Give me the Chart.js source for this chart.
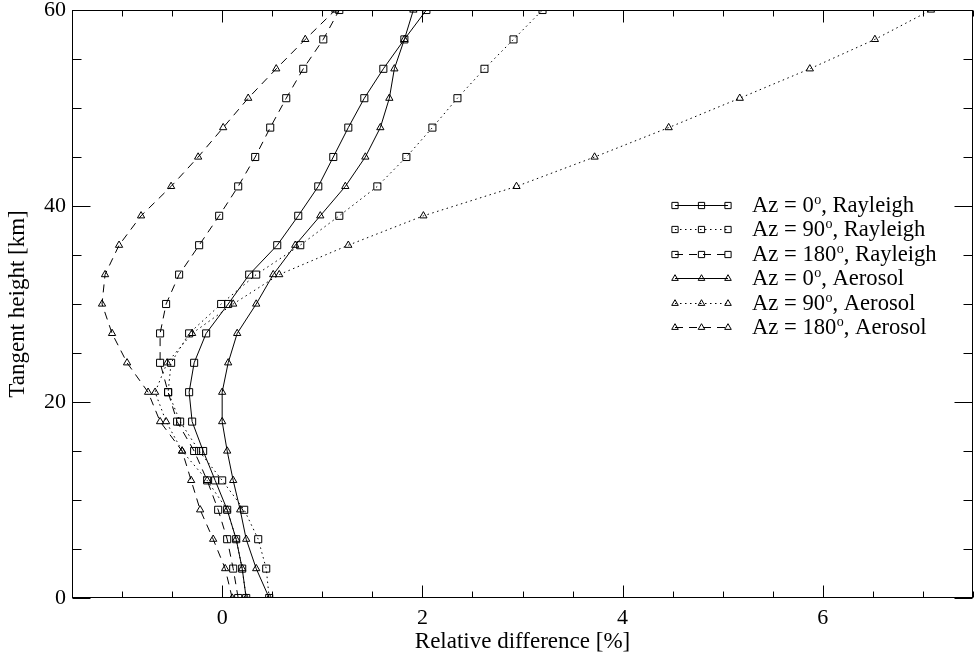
<!DOCTYPE html>
<html><head><meta charset="utf-8">
<script src="https://cdn.jsdelivr.net/npm/chart.js@4.4.1/dist/chart.umd.min.js"></script>
<style>html,body{margin:0;padding:0;background:#fff}canvas{display:block}</style>
</head><body>
<canvas id="c" width="979" height="662"></canvas>
<script>
// ---- data ----
const heights = [0,3,6,9,12,15,18,21,24,27,30,33,36,39,42,45,48,51,54,57,60];
const rayleigh0   = [0.24,0.20,0.14,0.05,-0.07,-0.19,-0.30,-0.33,-0.28,-0.16,0.06,0.27,0.55,0.76,0.96,1.11,1.26,1.42,1.61,1.82,2.04];
const rayleigh90  = [0.47,0.44,0.36,0.22,0.00,-0.23,-0.42,-0.54,-0.51,-0.33,-0.01,0.34,0.78,1.17,1.55,1.84,2.10,2.35,2.62,2.91,3.20];
const rayleigh180 = [0.16,0.11,0.05,-0.04,-0.15,-0.28,-0.45,-0.54,-0.62,-0.62,-0.56,-0.43,-0.23,-0.03,0.16,0.33,0.48,0.64,0.81,1.01,1.17];
const aerosol0    = [0.47,0.34,0.24,0.18,0.11,0.05,0.00,0.00,0.06,0.15,0.34,0.51,0.73,0.98,1.23,1.43,1.58,1.67,1.72,1.82,1.91];
const aerosol90   = [0.24,0.20,0.14,0.05,-0.15,-0.40,-0.56,-0.67,-0.55,-0.30,0.11,0.57,1.26,2.01,2.94,3.72,4.46,5.17,5.87,6.52,7.08];
const aerosol180  = [0.10,0.03,-0.09,-0.22,-0.31,-0.40,-0.62,-0.74,-0.95,-1.10,-1.20,-1.17,-1.03,-0.81,-0.51,-0.24,0.01,0.26,0.54,0.83,1.13];
const azimuths = ['0','90','180'];
const scatterTypes = ['Rayleigh','Aerosol'];
const xTickValues = [0,2,4,6];
const yTickValues = [0,20,40,60];
const xTitle = 'Relative difference [%]';
const yTitle = 'Tangent height [km]';

// ---- styles ----
const FONT = '"Liberation Serif", "Times New Roman", serif';
const dashStyles = [[], [1.5,3.5], [8,6]];
const seriesValues = [rayleigh0, rayleigh90, rayleigh180, aerosol0, aerosol90, aerosol180];

const datasets = seriesValues.map((vals, i) => {
  const az = azimuths[i % 3];
  const type = scatterTypes[Math.floor(i / 3)];
  const isTri = i >= 3;
  return {
    label: 'Az = ' + az + '\u00B0, ' + type,
    legendParts: ['Az = ' + az, 'o', ', ' + type],
    data: vals.map((v, k) => ({x: v, y: heights[k]})),
    showLine: true,
    borderColor: '#000',
    borderWidth: 1,
    borderDash: dashStyles[i % 3],
    pointStyle: isTri ? 'triangle' : 'rect',
    pointRadius: isTri ? 4.2 : 5,
    pointBorderWidth: 1,
    pointBorderColor: '#000',
    pointBackgroundColor: 'rgba(0,0,0,0)',
    backgroundColor: 'rgba(0,0,0,0)',
    tension: 0,
    clip: 0
  };
});

function drawMarker(ctx, style, x, y, r) {
  ctx.beginPath();
  if (style === 'rect') {
    const s = r * Math.SQRT1_2;
    ctx.rect(x - s, y - s, 2 * s, 2 * s);
  } else {
    const w = r * Math.sqrt(3) / 2;
    ctx.moveTo(x, y - r);
    ctx.lineTo(x + w, y + r / 2);
    ctx.lineTo(x - w, y + r / 2);
    ctx.closePath();
  }
  ctx.stroke();
}

const frameTicks = {
  id: 'frameTicks',
  afterDatasetsDraw(chart) {
    const {ctx, chartArea: a, scales: {x, y}} = chart;
    ctx.save();
    ctx.strokeStyle = '#000';
    ctx.lineWidth = 1;
    ctx.setLineDash([]);
    const L = Math.round(a.left) + 0.5, R = Math.round(a.right) - 0.5;
    const T = Math.round(a.top) + 0.5, B = Math.round(a.bottom) - 0.5;
    ctx.strokeRect(L, T, R - L, B - T);
    ctx.beginPath();
    for (let v = x.min; v <= x.max + 1e-9; v += 0.5) {
      const px = Math.round(x.getPixelForValue(v)) + 0.5;
      const len = xTickValues.includes(Math.round(v * 100) / 100) ? 12 : 6;
      ctx.moveTo(px, B); ctx.lineTo(px, B - len);
      ctx.moveTo(px, T); ctx.lineTo(px, T + len);
    }
    for (let v = y.min; v <= y.max + 1e-9; v += 5) {
      const py = Math.round(y.getPixelForValue(v)) + 0.5;
      const len = yTickValues.includes(v) ? 18 : 9;
      ctx.moveTo(L, py); ctx.lineTo(L + len, py);
      ctx.moveTo(R, py); ctx.lineTo(R - len, py);
    }
    ctx.stroke();
    ctx.restore();
  }
};

const LEG = {x0: 675, x1: 728, tx: 752, y0: 205, dy: 24.4};
const legendPlugin = {
  id: 'idlLegend',
  afterDraw(chart) {
    const ctx = chart.ctx;
    chart.data.datasets.forEach((ds, i) => {
      const y = LEG.y0 + i * LEG.dy;
      ctx.save();
      ctx.strokeStyle = '#000';
      ctx.lineWidth = 1;
      ctx.setLineDash(ds.borderDash);
      ctx.beginPath();
      ctx.moveTo(LEG.x0, Math.round(y) + 0.5);
      ctx.lineTo(LEG.x1, Math.round(y) + 0.5);
      ctx.stroke();
      ctx.setLineDash([]);
      const r = ds.pointStyle === 'rect' ? 4.4 : 3.8;
      [LEG.x0, (LEG.x0 + LEG.x1) / 2, LEG.x1].forEach(px => {
        drawMarker(ctx, ds.pointStyle, px, Math.round(y) + 0.5, r);
      });
      ctx.fillStyle = '#000';
      ctx.textBaseline = 'alphabetic';
      ctx.textAlign = 'left';
      const base = y + 7;
      let tx = LEG.tx;
      ctx.font = '22.6px ' + FONT;
      ctx.fillText(ds.legendParts[0], tx, base);
      tx += ctx.measureText(ds.legendParts[0]).width + 0.5;
      ctx.font = '14px ' + FONT;
      ctx.fillText(ds.legendParts[1], tx, base - 8);
      tx += ctx.measureText(ds.legendParts[1]).width;
      ctx.font = '22.6px ' + FONT;
      ctx.fillText(ds.legendParts[2], tx, base);
      ctx.restore();
    });
  }
};

new Chart(document.getElementById('c'), {
  type: 'scatter',
  data: {datasets},
  options: {
    responsive: false,
    animation: false,
    devicePixelRatio: 1,
    layout: {padding: {top: 10, right: 1, left: 0, bottom: 0}},
    plugins: {legend: {display: false}, tooltip: {enabled: false}},
    scales: {
      x: {
        type: 'linear', min: -1.5, max: 7.5,
        grid: {display: false, drawTicks: false},
        border: {display: false},
        afterBuildTicks: s => { s.ticks = xTickValues.map(v => ({value: v})); },
        afterFit: s => { s.height = 64; s.paddingLeft = 0; s.paddingRight = 0; },
        ticks: {color: '#000', font: {family: FONT, size: 22}, padding: 7, maxRotation: 0, autoSkip: false},
        title: {display: true, text: xTitle, color: '#000', font: {family: FONT, size: 23}, padding: {top: 0, bottom: 6}}
      },
      y: {
        type: 'linear', min: 0, max: 60,
        grid: {display: false, drawTicks: false},
        border: {display: false},
        afterBuildTicks: s => { s.ticks = yTickValues.map(v => ({value: v})); },
        afterFit: s => { s.width = 72; s.paddingTop = 0; s.paddingBottom = 0; },
        ticks: {color: '#000', font: {family: FONT, size: 22}, padding: 6, autoSkip: false},
        title: {display: true, text: yTitle, color: '#000', font: {family: FONT, size: 23}, padding: {top: 4, bottom: 0}}
      }
    }
  },
  plugins: [frameTicks, legendPlugin]
});
</script>
</body></html>
